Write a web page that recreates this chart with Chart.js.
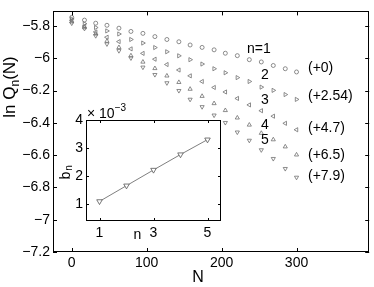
<!DOCTYPE html>
<html>
<head>
<meta charset="utf-8">
<script src="https://cdn.jsdelivr.net/npm/chart.js@4.4.0/dist/chart.umd.min.js"></script>
<style>
  html, body { margin: 0; padding: 0; background: #fff; }
  #wrap { position: relative; width: 374px; height: 287px; }
  #wrap canvas { position: absolute; left: 0; top: 0; }
</style>
</head>
<body>
<div id="wrap">
  <canvas id="main" width="374" height="287"></canvas>
  <canvas id="inset" width="374" height="287"></canvas>
</div>
<script>
// main plot: ln Q_n(N) against N, one series per n (already shifted)
const sizeN = [0, 17, 32, 47, 63, 79, 95, 111, 127, 143, 158, 174, 190, 205, 221, 237, 253, 269, 285, 300];
const lnQ1 = [-5.747, -5.764, -5.783, -5.796, -5.814, -5.834, -5.846, -5.866, -5.884, -5.898, -5.918, -5.933, -5.948, -5.969, -5.984, -6.009, -6.023, -6.045, -6.065, -6.085];
const lnQ2 = [-5.756, -5.786, -5.810, -5.831, -5.850, -5.884, -5.906, -5.934, -5.960, -5.985, -6.009, -6.036, -6.065, -6.090, -6.120, -6.144, -6.179, -6.199, -6.225, -6.255];
const lnQ3 = [-5.765, -5.801, -5.837, -5.870, -5.897, -5.942, -5.970, -6.006, -6.039, -6.073, -6.109, -6.144, -6.181, -6.209, -6.249, -6.289, -6.325, -6.359, -6.403, -6.443];
const lnQ4 = [-5.774, -5.810, -5.849, -5.894, -5.933, -5.984, -6.023, -6.063, -6.109, -6.149, -6.191, -6.235, -6.280, -6.323, -6.369, -6.413, -6.464, -6.504, -6.548, -6.598];
const lnQ5 = [-5.783, -5.816, -5.861, -5.912, -5.954, -5.999, -6.056, -6.102, -6.153, -6.201, -6.255, -6.301, -6.353, -6.399, -6.458, -6.509, -6.568, -6.622, -6.684, -6.738];
const seriesNames = ["n=1", "2", "3", "4", "5"];
const shiftLabels = ["(+0)", "(+2.54)", "(+4.7)", "(+6.5)", "(+7.9)"];
const xTicks = [0, 100, 200, 300];
const yTicks = [-7.2, -7, -6.8, -6.6, -6.4, -6.2, -6, -5.8];

// inset: slope b_n against n
const insetN = [1, 2, 3, 4, 5];
const insetB = [1.10e-3, 1.66e-3, 2.22e-3, 2.77e-3, 3.30e-3];
const insetXTicks = [1, 3, 5];
const insetYTicks = [1e-3, 2e-3, 3e-3, 4e-3];

const FONT = "'Liberation Sans', Arial, Helvetica, sans-serif";
const GREY = "#707070";

function minus(s) { return s.replace("-", "\u2212"); }

// box and inward tick marks, matlab style
function drawFrame(chart, xs, ys, len) {
  const {ctx, chartArea: a, scales} = chart;
  ctx.save();
  ctx.strokeStyle = "#000";
  ctx.lineWidth = 1;
  ctx.beginPath();
  xs.forEach(v => {
    const px = Math.round(scales.x.getPixelForValue(v)) + 0.5;
    ctx.moveTo(px, a.bottom); ctx.lineTo(px, a.bottom - len);
    ctx.moveTo(px, a.top); ctx.lineTo(px, a.top + len);
  });
  ys.forEach(v => {
    const py = Math.round(scales.y.getPixelForValue(v)) + 0.5;
    ctx.moveTo(a.left, py); ctx.lineTo(a.left + len, py);
    ctx.moveTo(a.right, py); ctx.lineTo(a.right - len, py);
  });
  ctx.stroke();
  ctx.strokeRect(Math.round(a.left) + 0.5, Math.round(a.top) + 0.5,
    Math.round(a.right - a.left) - 1, Math.round(a.bottom - a.top) - 1);
  ctx.restore();
}

// text pieces with sub/superscripts, drawn left to right from (x, y)
function drawRich(ctx, parts, x, y, center) {
  let w = 0;
  parts.forEach(p => { ctx.font = p.size + "px " + FONT; w += ctx.measureText(p.t).width; });
  let cx = center ? x - w / 2 : x;
  parts.forEach(p => {
    ctx.font = p.size + "px " + FONT;
    ctx.fillText(p.t, cx, y + (p.dy || 0));
    cx += ctx.measureText(p.t).width;
  });
}

const mainDecor = {
  id: "mainDecor",
  afterDraw(chart) {
    drawFrame(chart, xTicks, yTicks, 4);
    const ctx = chart.ctx;
    ctx.save();
    ctx.fillStyle = "#000";
    ctx.textBaseline = "alphabetic";
    ctx.font = "14px " + FONT;
    ctx.textAlign = "left";
    ctx.fillText(seriesNames[0], 247, 52.5);
    ctx.textAlign = "center";
    [79, 104, 128.5, 144].forEach((b, i) => ctx.fillText(seriesNames[i + 1], 265, b));
    ctx.textAlign = "left";
    [71.5, 100, 131.5, 159, 180].forEach((b, i) => ctx.fillText(shiftLabels[i], 308, b));
    // axis titles
    ctx.font = "16px " + FONT;
    ctx.textAlign = "center";
    ctx.fillText("N", 198, 282);
    ctx.translate(15, 87);
    ctx.rotate(-Math.PI / 2);
    ctx.textAlign = "left";
    drawRich(ctx, [{t: "ln Q", size: 17}, {t: "n", size: 12, dy: 4}, {t: "(N)", size: 17}], 0, 0, true);
    ctx.restore();
  }
};

const insetDecor = {
  id: "insetDecor",
  beforeDraw(chart) {
    const {ctx, chartArea: a} = chart;
    ctx.save();
    ctx.fillStyle = "#fff";
    ctx.fillRect(a.left, a.top, a.right - a.left, a.bottom - a.top);
    ctx.restore();
  },
  afterDraw(chart) {
    drawFrame(chart, insetXTicks, insetYTicks, 3);
    const ctx = chart.ctx;
    ctx.save();
    ctx.fillStyle = "#000";
    ctx.textAlign = "left";
    drawRich(ctx, [{t: "\u00d7 10", size: 14}, {t: "\u22123", size: 10, dy: -7}], 87, 118, false);
    ctx.font = "14px " + FONT;
    ctx.textAlign = "center";
    ctx.fillText("n", 137.5, 239);
    ctx.translate(70, 169);
    ctx.rotate(-Math.PI / 2);
    drawRich(ctx, [{t: "b", size: 14}, {t: "n", size: 10, dy: 2}], 0, 0, true);
    ctx.restore();
  }
};

const styles = [
  {pointStyle: "circle", rotation: 0, r: 2},
  {pointStyle: "triangle", rotation: 90, r: 2.4},
  {pointStyle: "triangle", rotation: -90, r: 2.4},
  {pointStyle: "triangle", rotation: 0, r: 2.4},
  {pointStyle: "triangle", rotation: 180, r: 2.4}
];
const series = [lnQ1, lnQ2, lnQ3, lnQ4, lnQ5];

new Chart(document.getElementById("main"), {
  type: "scatter",
  data: {
    datasets: series.map((vals, i) => ({
      label: seriesNames[i],
      data: vals.map((v, k) => ({x: sizeN[k], y: v})),
      pointStyle: styles[i].pointStyle,
      rotation: styles[i].rotation,
      pointRadius: styles[i].r,
      borderColor: GREY,
      backgroundColor: "rgba(0,0,0,0)",
      borderWidth: 0.8,
      showLine: false
    }))
  },
  options: {
    responsive: false,
    animation: false,
    devicePixelRatio: 1,
    layout: {padding: {left: 0, top: 3, right: 3, bottom: 0}},
    plugins: {legend: {display: false}, tooltip: {enabled: false}},
    scales: {
      x: {
        type: "linear", min: -25, max: 397,
        afterBuildTicks: s => { s.ticks = xTicks.map(v => ({value: v})); },
        afterFit: s => { s.height = 35; },
        grid: {display: false, drawTicks: false},
        border: {display: false},
        ticks: {color: "#000", padding: 3, maxRotation: 0, font: {family: FONT, size: 14},
          callback: v => minus(String(v))}
      },
      y: {
        type: "linear", min: -7.2, max: -5.71,
        afterBuildTicks: s => { s.ticks = yTicks.map(v => ({value: v})); },
        afterFit: s => { s.width = 53; },
        grid: {display: false, drawTicks: false},
        border: {display: false},
        ticks: {color: "#000", padding: 3, font: {family: FONT, size: 14},
          callback: v => minus(String(Math.round(v * 10) / 10))}
      }
    }
  },
  plugins: [mainDecor]
});

new Chart(document.getElementById("inset"), {
  type: "scatter",
  data: {
    datasets: [{
      data: insetN.map((n, k) => ({x: n, y: insetB[k]})),
      showLine: true,
      borderColor: "#808080",
      borderWidth: 1,
      pointStyle: "triangle",
      rotation: 180,
      pointRadius: 3.2,
      pointBorderColor: "#555",
      pointBackgroundColor: "#fff",
      pointBorderWidth: 0.8
    }]
  },
  options: {
    responsive: false,
    animation: false,
    devicePixelRatio: 1,
    layout: {padding: {left: 66, top: 120, right: 153, bottom: 44}},
    plugins: {legend: {display: false}, tooltip: {enabled: false}},
    scales: {
      x: {
        type: "linear", min: 0.5, max: 5.5,
        afterBuildTicks: s => { s.ticks = insetXTicks.map(v => ({value: v})); },
        afterFit: s => { s.height = 22; },
        grid: {display: false, drawTicks: false},
        border: {display: false},
        ticks: {color: "#000", padding: 4, maxRotation: 0, font: {family: FONT, size: 14}}
      },
      y: {
        type: "linear", min: 0.4e-3, max: 4e-3,
        afterBuildTicks: s => { s.ticks = insetYTicks.map(v => ({value: v})); },
        afterFit: s => { s.width = 20; },
        grid: {display: false, drawTicks: false},
        border: {display: false},
        ticks: {color: "#000", padding: 3, font: {family: FONT, size: 14},
          callback: v => String(Math.round(v * 1e3))}
      }
    }
  },
  plugins: [insetDecor]
});
</script>
</body>
</html>
